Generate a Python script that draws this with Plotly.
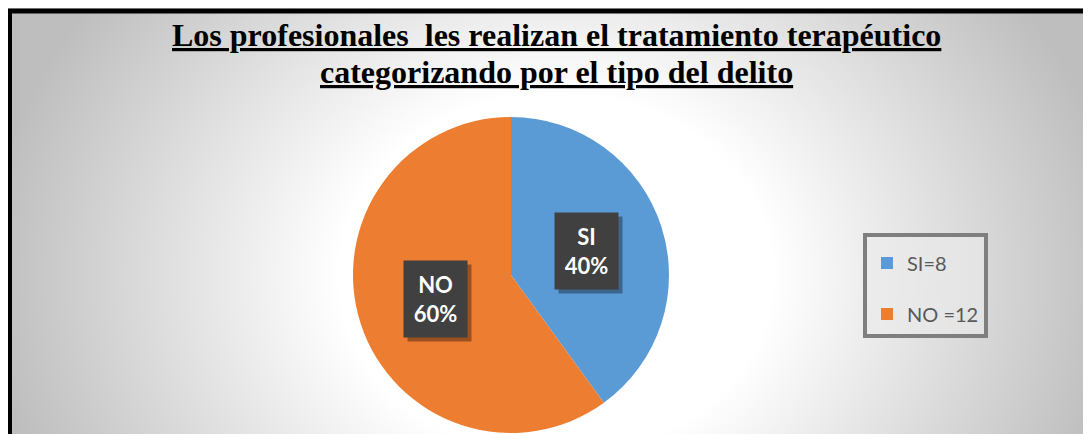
import math
import plotly.graph_objects as go

# data
categories = ["SI", "NO"]
values = [8, 12]
legend_labels = ["SI=8", "NO =12"]
colors = ["#5B9BD5", "#ED7D31"]

title_lines = ["Los profesionales  les realizan el tratamiento terapéutico",
               "categorizando por el tipo del delito"]

# page body has an 8px margin, so the figure is drawn from (8, 8) of the window
OFF = 8
W, H = 1091 - OFF, 434 - OFF
cx, cy, r = 511, 275, 158  # pie center / radius in window px

fig = go.Figure()

# radial grey background (Excel style gradient)
fig.add_trace(go.Scatter(
    x=[-12, 1124, 1124, -12, -12], y=[-200, -200, 750, 750, -200],
    mode="lines", line=dict(width=0), fill="toself",
    fillgradient=dict(type="radial",
                      colorscale=[[0, "#ffffff"], [0.38, "#ffffff"], [1, "#bebebe"]]),
    hoverinfo="skip", showlegend=False))

# legend entries
for lab, col in zip(legend_labels, colors):
    fig.add_trace(go.Scatter(x=[None], y=[None], mode="markers", name=lab,
                             legendgroup=lab,
                             marker=dict(symbol="square", size=13, color=col)))

fx, fy = cx - OFF, cy - OFF
fig.add_trace(go.Pie(
    labels=categories, values=values, sort=False, direction="clockwise",
    rotation=0, marker=dict(colors=colors, line=dict(width=0)),
    textinfo="none", hoverinfo="label+value+percent", showlegend=False,
    domain=dict(x=[(fx - r) / W, (fx + r) / W],
                y=[max(0, (H - fy - r) / H), (H - fy + r) / H])))

# dark label boxes at mid-angle of each slice
total = sum(values)
acc = 0
for cat, v in zip(categories, values):
    mid = (acc + v / 2) / total * 2 * math.pi
    acc += v
    px_ = cx + 0.5 * r * math.sin(mid)
    py_ = cy - 0.5 * r * math.cos(mid)
    pct = round(v / total * 100)
    # shadow
    fig.add_annotation(x=px_ + 4, y=py_ + 4, xref="x", yref="y", text="",
                       showarrow=False, width=63, height=76, bgcolor="rgba(0,0,0,0.35)",
                       borderpad=0)
    fig.add_annotation(x=px_, y=py_, xref="x", yref="y",
                       text=f"<b>{cat}<br>{pct}%</b>", showarrow=False,
                       width=63, height=76, bgcolor="#404040", borderpad=0,
                       font=dict(family="Lato, Open Sans, sans-serif", size=22, color="white"))

for i, line in enumerate(title_lines):
    fig.add_annotation(x=556, y=35 + 37 * i, xref="x", yref="y", yanchor="middle",
                       text="<b><u>" + line + "</u></b>", showarrow=False,
                       font=dict(family="Liberation Serif, Times New Roman, serif",
                                 size=32, color="black"))

# white outside strip and outer frame
fig.add_shape(type="rect", xref="x", yref="y", x0=0, y0=0, x1=1100, y1=8.5,
              line=dict(width=0), fillcolor="white", layer="above")
fig.add_shape(type="rect", xref="x", yref="y", x0=9.5, y0=11, x1=1120, y1=470,
              line=dict(color="black", width=5), layer="above")

fig.update_layout(
    width=W, height=H, margin=dict(l=0, r=0, t=0, b=0),
    paper_bgcolor="white", plot_bgcolor="white",
    xaxis=dict(range=[OFF, 1091], visible=False, fixedrange=True),
    yaxis=dict(range=[434, OFF], visible=False, fixedrange=True),
    legend=dict(x=(863 - OFF) / W, y=(434 - 233) / H, xanchor="left", yanchor="top",
                bordercolor="#7f7f7f", borderwidth=4, bgcolor="rgba(235,235,235,0.6)",
                title=dict(text=" ", font=dict(size=5)),
                tracegroupgap=22, itemsizing="constant", entrywidth=114,
                font=dict(family="Lato, Open Sans, sans-serif", size=20, color="#595959")),
)

fig.write_html("out.html")
